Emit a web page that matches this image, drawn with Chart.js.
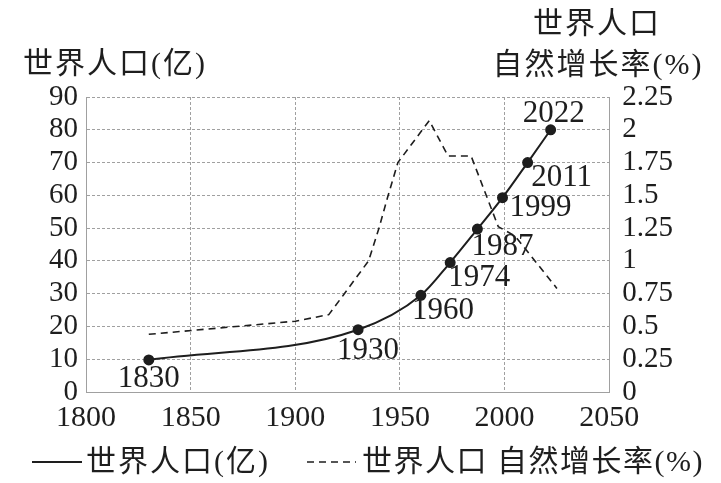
<!DOCTYPE html>
<html>
<head>
<meta charset="utf-8">
<script src="https://cdn.jsdelivr.net/npm/chart.js@4.4.0/dist/chart.umd.min.js"></script>
<style>
    html, body { margin: 0; padding: 0; background: #fff; }
    #wrap { width: 721px; height: 483px; position: relative; }
</style>
</head>
<body>
<div id="wrap"><canvas id="population-chart"></canvas></div>
<script>
// world population (亿) at labelled years
const popYears = [1830, 1930, 1960, 1974, 1987, 1999, 2011, 2022];
const popValues = [9.8, 19, 29.5, 39.5, 49.7, 59.3, 70, 80];

// natural growth rate (%)
const rateYears = [1830, 1900, 1916, 1923, 1935, 1940, 1944, 1949, 1964, 1973, 1984, 1997, 2005, 2025];
const rateValues = [0.44, 0.54, 0.59, 0.74, 1.0, 1.25, 1.48, 1.75, 2.07, 1.8, 1.8, 1.26, 1.19, 0.79];

const yearTicks = [1800, 1850, 1900, 1950, 2000, 2050];
const popTicks = [0, 10, 20, 30, 40, 50, 60, 70, 80, 90];
const rateTicks = [0, 0.25, 0.5, 0.75, 1, 1.25, 1.5, 1.75, 2, 2.25];

const popTitle = "世界人口(亿)";
const rateTitle = ["世界人口", "自然增长率(%)"];
const legendPop = "世界人口(亿)";
const legendRate = "世界人口 自然增长率(%)";

// label offsets from each population point (px)
const labelOffsets = [[0, 19], [10, 21], [22, 16], [29, 15], [25, 18], [38, 10], [34, 15], [3, -16]];

const ink = "#1e1e1e";
const gridColor = "#a0a0a0";
const numFont = "'Liberation Serif', 'Noto Sans CJK SC', serif";

const chartCanvas = document.querySelector("#population-chart");

const textPlugin = {
    id: 'textPlugin',
    afterDraw(chart) {
        const ctx = chart.ctx;
        const xs = chart.scales.x;
        const ys = chart.scales.y;
        ctx.save();
        ctx.fillStyle = ink;
        ctx.textBaseline = 'middle';

        // point labels
        ctx.font = "31px " + numFont;
        ctx.textAlign = 'center';
        popYears.forEach((yr, i) => {
            const px = xs.getPixelForValue(yr);
            const py = ys.getPixelForValue(popValues[i]);
            ctx.fillText(String(yr), px + labelOffsets[i][0], py + labelOffsets[i][1]);
        });

        // axis titles
        ctx.font = "30px " + numFont;
        ctx.letterSpacing = "2px";
        ctx.textAlign = 'left';
        ctx.fillText(popTitle, 23, 65);
        ctx.textAlign = 'center';
        ctx.fillText(rateTitle[0], 597, 25);
        ctx.fillText(rateTitle[1], 598, 66);

        // legend
        ctx.strokeStyle = ink;
        ctx.lineWidth = 2;
        ctx.beginPath();
        ctx.moveTo(32, 462);
        ctx.lineTo(82, 462);
        ctx.stroke();
        ctx.lineWidth = 1.5;
        ctx.setLineDash([7, 5]);
        ctx.beginPath();
        ctx.moveTo(307, 462);
        ctx.lineTo(356, 462);
        ctx.stroke();
        ctx.setLineDash([]);
        ctx.textAlign = 'left';
        ctx.letterSpacing = "2px";
        ctx.fillText(legendPop, 86, 463);
        ctx.letterSpacing = "1.5px";
        ctx.fillText(legendRate, 362, 463);
        ctx.restore();
    }
};

const chartConfig = {
    type: 'line',
    data: {
        datasets: [{
            label: legendPop,
            data: popYears.map((yr, i) => ({ x: yr, y: popValues[i] })),
            yAxisID: 'y',
            borderColor: ink,
            backgroundColor: ink,
            borderWidth: 2,
            pointRadius: 4.5,
            pointHoverRadius: 4.5,
            cubicInterpolationMode: 'monotone',
        }, {
            label: legendRate,
            data: rateYears.map((yr, i) => ({ x: yr, y: rateValues[i] })),
            yAxisID: 'y1',
            borderColor: ink,
            borderWidth: 1.6,
            borderDash: [7, 5],
            pointRadius: 0,
            tension: 0,
        }]
    },
    options: {
        responsive: true,
        maintainAspectRatio: false,
        animation: false,
        layout: {
            padding: { top: 97, left: 41, right: 35, bottom: 39 }
        },
        plugins: {
            legend: { display: false },
            tooltip: { enabled: false },
        },
        scales: {
            x: {
                type: 'linear',
                min: 1800,
                max: 2050,
                afterBuildTicks: (scale) => { scale.ticks = yearTicks.map(v => ({ value: v })); },
                grid: { color: gridColor, lineWidth: 1, drawTicks: false },
                border: { display: true, color: gridColor, dash: [3, 2] },
                ticks: {
                    color: ink,
                    padding: 8,
                    autoSkip: false,
                    maxRotation: 0,
                    font: { family: numFont, size: 30 },
                    callback: (v) => String(v),
                },
            },
            y: {
                position: 'left',
                min: 0,
                max: 90,
                afterBuildTicks: (scale) => { scale.ticks = popTicks.map(v => ({ value: v })); },
                grid: { color: gridColor, lineWidth: 1, drawTicks: false },
                border: { display: true, color: gridColor, dash: [3, 2] },
                ticks: {
                    color: ink,
                    padding: 8,
                    autoSkip: false,
                    font: { family: numFont, size: 29 },
                    callback: (v) => String(v),
                },
            },
            y1: {
                position: 'right',
                min: 0,
                max: 2.25,
                afterBuildTicks: (scale) => { scale.ticks = rateTicks.map(v => ({ value: v })); },
                grid: { drawOnChartArea: false, drawTicks: false },
                border: { display: true, color: gridColor, dash: [3, 2] },
                ticks: {
                    color: ink,
                    padding: 13,
                    autoSkip: false,
                    font: { family: numFont, size: 29 },
                    callback: (v) => String(v),
                },
            },
        },
    },
    plugins: [textPlugin],
};

const populationChart = new Chart(chartCanvas, chartConfig);
</script>
</body>
</html>
